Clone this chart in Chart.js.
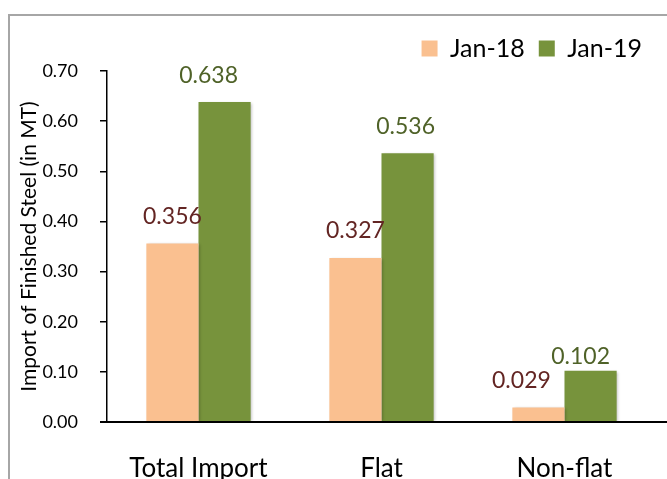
<!DOCTYPE html>
<html>
<head>
<meta charset="utf-8">
<script src="https://cdn.jsdelivr.net/npm/chart.js@4"></script>
<style>
  html, body { margin: 0; padding: 0; background: #fff; overflow: hidden; }
  #wrap { position: relative; width: 667px; height: 479px; }
  #frame { position: absolute; left: 8px; top: 14px; right: -10px; bottom: -10px;
           border-left: 2px solid #a6a6a6; border-top: 2px solid #a6a6a6; }
  canvas { position: absolute; left: 0; top: 0; }
</style>
</head>
<body>
<div id="wrap">
  <div id="frame"></div>
  <canvas id="steelChart" width="667" height="479"></canvas>
</div>
<script>
// =======================
// DATA
// =======================
const categories = ['Total Import', 'Flat', 'Non-flat'];
const jan18 = [0.356, 0.327, 0.029];
const jan19 = [0.638, 0.536, 0.102];
const seriesNames = ['Jan-18', 'Jan-19'];
const yTicks = [0, 0.1, 0.2, 0.3, 0.4, 0.5, 0.6, 0.7];

const FONT = 'Lato';

// value labels above bars (Excel-style, a couple of them nudged by hand)
const valueLabels = {
  id: 'valueLabels',
  afterDatasetsDraw(chart, args, opts) {
    const ctx = chart.ctx;
    ctx.save();
    ctx.font = '23px ' + FONT;
    ctx.textAlign = 'center';
    ctx.textBaseline = 'middle';
    chart.data.datasets.forEach((ds, i) => {
      const meta = chart.getDatasetMeta(i);
      ctx.fillStyle = opts.colors[i];
      meta.data.forEach((bar, j) => {
        const dx = opts.nudgeX[i][j], dy = opts.nudgeY[i][j];
        ctx.fillText(ds.data[j].toFixed(3), bar.x + dx, bar.y - 27 + dy);
      });
    });
    ctx.restore();
  }
};

// soft shadow behind bars + x axis line running to the edge
const barShadow = {
  id: 'barShadow',
  beforeDatasetsDraw(chart) {
    const ctx = chart.ctx;
    ctx.save();
    ctx.shadowColor = 'rgba(0,0,0,0.28)';
    ctx.shadowBlur = 3;
    ctx.shadowOffsetX = 1.5;
    ctx.shadowOffsetY = 1;
  },
  afterDatasetsDraw(chart) {
    chart.ctx.restore();
    const ctx = chart.ctx, y = chart.scales.y.getPixelForValue(0);
    ctx.save();
    ctx.strokeStyle = '#000';
    ctx.lineWidth = 2;
    ctx.beginPath();
    ctx.moveTo(chart.chartArea.left - 7, y);
    ctx.lineTo(chart.width, y);
    ctx.stroke();
    ctx.restore();
  }
};

new Chart(document.getElementById('steelChart').getContext('2d'), {
  type: 'bar',
  data: {
    labels: categories,
    datasets: [
      { label: seriesNames[0], data: jan18, backgroundColor: '#FAC090' },
      { label: seriesNames[1], data: jan19, backgroundColor: '#77933C' }
    ]
  },
  options: {
    responsive: false,
    animation: false,
    devicePixelRatio: 1,
    categoryPercentage: 0.57,
    barPercentage: 1,
    layout: { padding: { left: 17, right: 11, top: 22, bottom: 0 } },
    plugins: {
      legend: {
        position: 'top',
        align: 'end',
        labels: {
          color: '#000',
          font: { family: FONT, size: 25 },
          boxWidth: 16,
          boxHeight: 16,
          padding: 14
        }
      },
      tooltip: { enabled: false },
      valueLabels: {
        colors: ['#632523', '#4F6228'],
        nudgeX: [[0, 0, -17], [-16, -2, -10]],
        nudgeY: [[0, 0, 0], [0, 0, 13]]
      }
    },
    scales: {
      x: {
        grid: { display: false },
        border: { display: false },
        ticks: { color: '#000', font: { family: FONT, size: 26 }, padding: 23 },
        afterFit(s) { s.height = 57; }
      },
      y: {
        min: 0,
        max: 0.7,
        afterBuildTicks(s) { s.ticks = yTicks.map(v => ({ value: v })); },
        grid: { drawOnChartArea: false, drawTicks: true, tickLength: 7, color: '#000', lineWidth: 1.5 },
        border: { display: true, color: '#000', width: 1.5 },
        ticks: {
          color: '#000',
          font: { family: FONT, size: 18 },
          padding: 22,
          callback: v => Number(v).toFixed(2)
        },
        title: {
          display: true,
          text: 'Import of Finished Steel (in MT)',
          color: '#000',
          font: { family: FONT, size: 21 },
          padding: { top: 0, bottom: 0 }
        },
        afterFit(s) { s.width = 107 - 17; }
      }
    }
  },
  plugins: [barShadow, valueLabels]
});
</script>
</body>
</html>
